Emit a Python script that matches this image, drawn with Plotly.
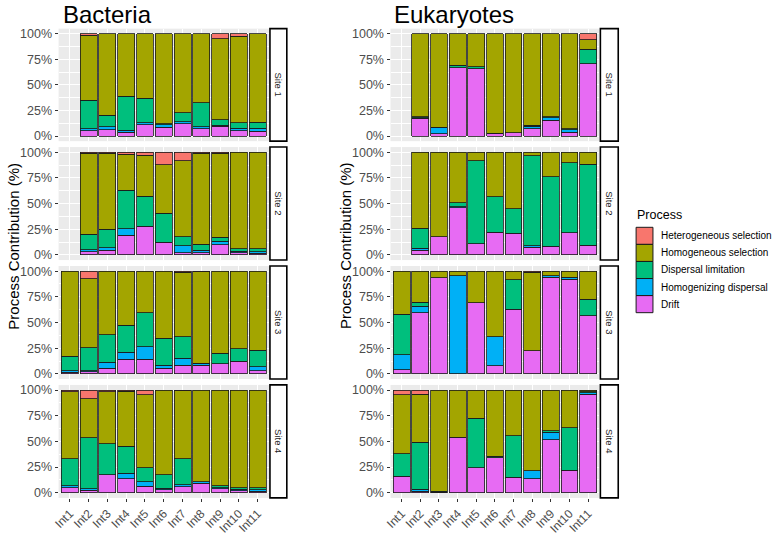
import plotly.graph_objects as go

intervals = ['Int1', 'Int2', 'Int3', 'Int4', 'Int5', 'Int6', 'Int7', 'Int8', 'Int9', 'Int10', 'Int11']
sites = ['Site 1', 'Site 2', 'Site 3', 'Site 4']
processes = ['Heterogeneous selection', 'Homogeneous selection', 'Dispersal limitation',
             'Homogenizing dispersal', 'Drift']
colors = ['#F8766D', '#A3A500', '#00BF7D', '#00B0F6', '#E76BF3']
pct_ticks = [0, 25, 50, 75, 100]
pct_labels = ['0%', '25%', '50%', '75%', '100%']

# Bacteria (Int1 missing at sites 1 and 2)
bac1_het = [None, 1.5, 0, 0, 0, 0, 0, 0, 5, 2.5, 0]
bac1_hs = [None, 63.5, 79.5, 61, 63, 88, 77, 67.5, 79, 84.5, 86.5]
bac1_dl = [None, 28, 11.5, 33.5, 24, 1, 9, 23.5, 5.5, 5.5, 6]
bac1_hd = [None, 2, 3, 2, 2, 2.5, 2, 2, 1, 2.5, 3]
bac1_dr = [None, 5, 6, 3.5, 11, 8.5, 12, 7, 9.5, 5, 4.5]

bac2_het = [None, 1, 1, 2, 3, 12, 8.5, 1, 1, 0, 0]
bac2_hs = [None, 79, 74, 35, 40, 47.5, 74, 88.5, 82, 94, 94]
bac2_dl = [None, 15, 18, 37.5, 29, 28, 8.5, 6, 3.5, 2.5, 3]
bac2_hd = [None, 2, 2.5, 6.5, 0, 0, 7, 2.5, 3.5, 1.5, 1.5]
bac2_dr = [None, 3, 4.5, 19, 28, 12.5, 2, 2, 10, 2, 1.5]

bac3_het = [0, 7.5, 0, 0, 0, 0, 1, 0.5, 0, 0, 0]
bac3_hs = [83, 67, 62, 52.5, 40.5, 65.5, 63, 89, 80, 75.5, 77]
bac3_dl = [14, 22.5, 26.5, 26.5, 33, 26, 21, 0.5, 10, 12, 16]
bac3_hd = [1.5, 1, 6, 7, 12.5, 3, 6.5, 1.5, 0, 0, 4]
bac3_dr = [1.5, 2, 5.5, 14, 14, 5.5, 8.5, 8.5, 10, 12.5, 3]

bac4_het = [1.5, 8.5, 1.5, 1, 4.5, 0, 0.5, 0, 0, 0, 0]
bac4_hs = [65.5, 38, 51, 53.5, 71, 82.5, 66.5, 89.5, 93, 95, 95]
bac4_dl = [26, 49.5, 30, 26.5, 14, 13, 25, 0, 2, 1.5, 2]
bac4_hd = [2, 1.5, 0, 5.5, 4, 1.5, 2, 1, 1, 1.5, 1.5]
bac4_dr = [5, 2.5, 17.5, 13.5, 6.5, 3, 6, 9.5, 4, 2, 1.5]

# Eukaryotes
euk1_het = [None, 0, 0, 0, 0, 0, 0, 0, 0, 0, 6]
euk1_hs = [None, 81, 91.5, 31, 32.5, 97.5, 97, 89.5, 81, 93, 9]
euk1_dl = [None, 1, 0.5, 2, 1.5, 0.5, 0, 1, 1, 1, 14.5]
euk1_hd = [None, 0.5, 6, 0, 0, 0, 0, 2.5, 2.5, 2.5, 0]
euk1_dr = [None, 17.5, 2, 67, 66, 2, 3, 7, 15.5, 3.5, 70.5]

euk2_het = [None, 0, 0, 0, 0, 0, 0, 0, 0, 0, 0]
euk2_hs = [None, 74, 82.5, 49, 8.5, 43.5, 55, 3.5, 24, 10.5, 11.5]
euk2_dl = [None, 19.5, 0, 4, 80.5, 34.5, 24, 87.5, 67.5, 68, 79]
euk2_hd = [None, 2, 0, 1, 0, 0, 0, 1.5, 0, 0, 0]
euk2_dr = [None, 4.5, 17.5, 46, 11, 22, 21, 7.5, 8.5, 21.5, 9.5]

euk3_het = [0, 0, 0, 0, 0, 0, 0, 1, 0, 0, 0]
euk3_hs = [42, 30.5, 6.5, 4.5, 31, 64, 8.5, 76.5, 4.5, 6, 27.5]
euk3_dl = [39.5, 3.5, 0, 0, 0, 0, 28.5, 0, 0, 0, 16]
euk3_hd = [14.5, 6.5, 0, 95.5, 0, 28, 0, 0, 1.5, 2, 0]
euk3_dr = [4, 59.5, 93.5, 0, 69, 8, 63, 22.5, 94, 92, 56.5]

euk4_het = [4.5, 4, 0, 0, 0, 0, 0, 0, 0, 0, 0]
euk4_hs = [57.5, 47, 98.5, 46, 27.5, 64.5, 44.5, 78.5, 39.5, 36.5, 1.5]
euk4_dl = [22, 45.5, 1, 0, 48, 1.5, 40.5, 0, 1.5, 41.5, 1]
euk4_hd = [0, 2, 0, 0, 0, 0, 0, 8, 7.5, 0, 1.5]
euk4_dr = [16, 1.5, 0.5, 54, 24.5, 34, 15, 13.5, 51.5, 22, 96]

bacteria = [
    [bac1_het, bac1_hs, bac1_dl, bac1_hd, bac1_dr],
    [bac2_het, bac2_hs, bac2_dl, bac2_hd, bac2_dr],
    [bac3_het, bac3_hs, bac3_dl, bac3_hd, bac3_dr],
    [bac4_het, bac4_hs, bac4_dl, bac4_hd, bac4_dr],
]
eukaryotes = [
    [euk1_het, euk1_hs, euk1_dl, euk1_hd, euk1_dr],
    [euk2_het, euk2_hs, euk2_dl, euk2_hd, euk2_dr],
    [euk3_het, euk3_hs, euk3_dl, euk3_hd, euk3_dr],
    [euk4_het, euk4_hs, euk4_dl, euk4_hd, euk4_dr],
]

W, H = 777, 536
FONT = 'Liberation Sans, Arial, sans-serif'

def px(x):
    return x / W

def py(y):
    return 1 - y / H

# panel geometry in pixels
col_x = [(53, 265), (387.5, 598)]
strip_x = [(266, 283), (599, 617)]
row_y = [(28, 142), (148, 262.5), (268.5, 383), (389, 503.5)]

fig = go.Figure()
layout = {}
shapes = []
annotations = []

for d, domain in enumerate([bacteria, eukaryotes]):
    for s in range(4):
        n = d * 4 + s + 1
        xa = 'x' if n == 1 else f'x{n}'
        ya = 'y' if n == 1 else f'y{n}'
        # stack from bottom (Drift) to top (Heterogeneous selection)
        for k in reversed(range(5)):
            vals = [None if v == 0 else v for v in domain[s][k]]
            fig.add_trace(go.Bar(
                x=intervals, y=vals, xaxis=xa, yaxis=ya,
                name=processes[k], showlegend=False,
                marker=dict(color=colors[k], line=dict(color='#1a1a1a', width=0.8)),
            ))
        bottom = s == 3
        layout['xaxis' if n == 1 else f'xaxis{n}'] = dict(
            domain=[px(col_x[d][0]), px(col_x[d][1])], anchor=ya,
            type='category', categoryorder='array', categoryarray=intervals,
            range=[-0.6, 10.6], showgrid=True, gridcolor='white', gridwidth=1.1,
            showticklabels=bottom, ticks='outside' if bottom else '', ticklen=3,
            tickcolor='#333333', tickangle=-45,
            tickfont=dict(family=FONT, size=12, color='#4D4D4D'),
            showline=False, zeroline=False,
        )
        layout['yaxis' if n == 1 else f'yaxis{n}'] = dict(
            domain=[py(row_y[s][1]), py(row_y[s][0])], anchor=xa,
            range=[-5, 105], tickmode='array', tickvals=pct_ticks, ticktext=pct_labels,
            ticks='outside', ticklen=3, tickcolor='#333333',
            tickfont=dict(family=FONT, size=12.5, color='#4D4D4D'),
            showgrid=True, gridcolor='white', gridwidth=1.1, zeroline=False,
            minor=dict(tickvals=[12.5, 37.5, 62.5, 87.5], showgrid=True,
                       gridcolor='white', gridwidth=0.5, ticks=''),
        )
        # facet strip
        shapes.append(dict(type='rect', xref='paper', yref='paper',
                           x0=px(strip_x[d][0]), x1=px(strip_x[d][1]),
                           y0=py(row_y[s][1]), y1=py(row_y[s][0]),
                           fillcolor='white', line=dict(color='black', width=1.6)))
        annotations.append(dict(xref='paper', yref='paper', showarrow=False,
                                x=px(sum(strip_x[d]) / 2), y=py(sum(row_y[s]) / 2),
                                xanchor='center', yanchor='middle',
                                text=sites[s], textangle=90,
                                font=dict(family=FONT, size=9.5, color='#1A1A1A')))

# titles and y axis titles
for text, x0 in [('Bacteria', 55), ('Eukaryotes', 389)]:
    annotations.append(dict(xref='paper', yref='paper', showarrow=False,
                            x=px(x0), y=py(14), xanchor='left', yanchor='middle',
                            text=text, font=dict(family=FONT, size=24, color='black')))
for x0 in [8, 342]:
    annotations.append(dict(xref='paper', yref='paper', showarrow=False,
                            x=px(x0), y=py(248), xanchor='center', yanchor='middle',
                            textangle=-90, text='Process Contribution (%)',
                            font=dict(family=FONT, size=15, color='black')))

# legend
annotations.append(dict(xref='paper', yref='paper', showarrow=False,
                        x=px(634), y=py(217), xanchor='left', yanchor='middle',
                        text='Process', font=dict(family=FONT, size=12.5, color='black')))
for k in range(5):
    top = 229.3 + 17.3 * k
    shapes.append(dict(type='rect', xref='paper', yref='paper',
                       x0=px(635), x1=px(652), y0=py(top + 17.3), y1=py(top),
                       fillcolor=colors[k], line=dict(color='#1a1a1a', width=1)))
    annotations.append(dict(xref='paper', yref='paper', showarrow=False,
                            x=px(658), y=py(top + 8.6), xanchor='left', yanchor='middle',
                            text=processes[k], font=dict(family=FONT, size=10, color='black')))

fig.update_layout(
    width=W, height=H, margin=dict(l=0, r=0, t=0, b=0),
    barmode='stack', bargap=0.1,
    plot_bgcolor='#EBEBEB', paper_bgcolor='white',
    font=dict(family=FONT),
    showlegend=False,
    shapes=shapes, annotations=annotations,
    **layout,
)

# drop the default page margin so the figure sits at the window corner
fig.write_html('out.html', config={'displayModeBar': False},
               post_script="document.body.style.margin='0';")
